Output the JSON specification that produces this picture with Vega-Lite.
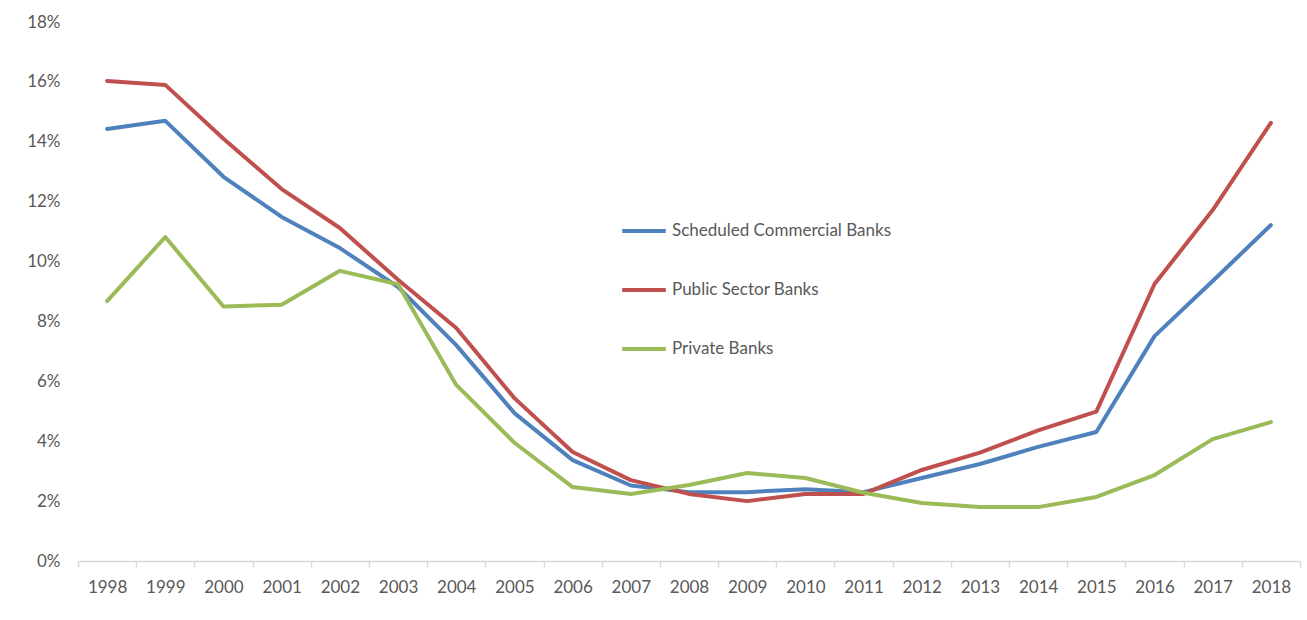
{
  "$schema": "https://vega.github.io/schema/vega-lite/v6.json",
  "autosize": "none",
  "width": 1222,
  "height": 539,
  "padding": {"left": 78, "top": 22, "right": 7, "bottom": 59},
  "background": "white",
  "config": {
    "view": {"stroke": null},
    "font": "Lato",
    "axis": {"labelFont": "Lato", "labelFontSize": 17, "labelColor": "#595959", "titleFont": "Lato"},
    "legend": {"labelFont": "Lato", "labelFontSize": 17, "labelColor": "#595959", "labelLimit": 0}
  },
  "data": {
    "values": [
      {"year": "1998", "series": "Scheduled Commercial Banks", "value": 14.43},
      {"year": "1999", "series": "Scheduled Commercial Banks", "value": 14.7},
      {"year": "2000", "series": "Scheduled Commercial Banks", "value": 12.83},
      {"year": "2001", "series": "Scheduled Commercial Banks", "value": 11.49},
      {"year": "2002", "series": "Scheduled Commercial Banks", "value": 10.45},
      {"year": "2003", "series": "Scheduled Commercial Banks", "value": 9.15},
      {"year": "2004", "series": "Scheduled Commercial Banks", "value": 7.21},
      {"year": "2005", "series": "Scheduled Commercial Banks", "value": 4.94},
      {"year": "2006", "series": "Scheduled Commercial Banks", "value": 3.37},
      {"year": "2007", "series": "Scheduled Commercial Banks", "value": 2.52},
      {"year": "2008", "series": "Scheduled Commercial Banks", "value": 2.3},
      {"year": "2009", "series": "Scheduled Commercial Banks", "value": 2.3},
      {"year": "2010", "series": "Scheduled Commercial Banks", "value": 2.4},
      {"year": "2011", "series": "Scheduled Commercial Banks", "value": 2.3},
      {"year": "2012", "series": "Scheduled Commercial Banks", "value": 2.77},
      {"year": "2013", "series": "Scheduled Commercial Banks", "value": 3.24},
      {"year": "2014", "series": "Scheduled Commercial Banks", "value": 3.81},
      {"year": "2015", "series": "Scheduled Commercial Banks", "value": 4.31},
      {"year": "2016", "series": "Scheduled Commercial Banks", "value": 7.51},
      {"year": "2017", "series": "Scheduled Commercial Banks", "value": 9.35},
      {"year": "2018", "series": "Scheduled Commercial Banks", "value": 11.22},
      {"year": "1998", "series": "Public Sector Banks", "value": 16.03},
      {"year": "1999", "series": "Public Sector Banks", "value": 15.9},
      {"year": "2000", "series": "Public Sector Banks", "value": 14.1},
      {"year": "2001", "series": "Public Sector Banks", "value": 12.42},
      {"year": "2002", "series": "Public Sector Banks", "value": 11.12},
      {"year": "2003", "series": "Public Sector Banks", "value": 9.39},
      {"year": "2004", "series": "Public Sector Banks", "value": 7.78},
      {"year": "2005", "series": "Public Sector Banks", "value": 5.44},
      {"year": "2006", "series": "Public Sector Banks", "value": 3.64},
      {"year": "2007", "series": "Public Sector Banks", "value": 2.7},
      {"year": "2008", "series": "Public Sector Banks", "value": 2.24},
      {"year": "2009", "series": "Public Sector Banks", "value": 2.0},
      {"year": "2010", "series": "Public Sector Banks", "value": 2.24},
      {"year": "2011", "series": "Public Sector Banks", "value": 2.24},
      {"year": "2012", "series": "Public Sector Banks", "value": 3.04},
      {"year": "2013", "series": "Public Sector Banks", "value": 3.62},
      {"year": "2014", "series": "Public Sector Banks", "value": 4.36},
      {"year": "2015", "series": "Public Sector Banks", "value": 4.99},
      {"year": "2016", "series": "Public Sector Banks", "value": 9.25},
      {"year": "2017", "series": "Public Sector Banks", "value": 11.72},
      {"year": "2018", "series": "Public Sector Banks", "value": 14.63},
      {"year": "1998", "series": "Private Banks", "value": 8.68},
      {"year": "1999", "series": "Private Banks", "value": 10.82},
      {"year": "2000", "series": "Private Banks", "value": 8.5},
      {"year": "2001", "series": "Private Banks", "value": 8.56},
      {"year": "2002", "series": "Private Banks", "value": 9.69},
      {"year": "2003", "series": "Private Banks", "value": 9.24},
      {"year": "2004", "series": "Private Banks", "value": 5.88},
      {"year": "2005", "series": "Private Banks", "value": 3.95},
      {"year": "2006", "series": "Private Banks", "value": 2.47},
      {"year": "2007", "series": "Private Banks", "value": 2.24},
      {"year": "2008", "series": "Private Banks", "value": 2.54},
      {"year": "2009", "series": "Private Banks", "value": 2.94},
      {"year": "2010", "series": "Private Banks", "value": 2.77},
      {"year": "2011", "series": "Private Banks", "value": 2.28},
      {"year": "2012", "series": "Private Banks", "value": 1.94},
      {"year": "2013", "series": "Private Banks", "value": 1.8},
      {"year": "2014", "series": "Private Banks", "value": 1.8},
      {"year": "2015", "series": "Private Banks", "value": 2.14},
      {"year": "2016", "series": "Private Banks", "value": 2.87},
      {"year": "2017", "series": "Private Banks", "value": 4.07},
      {"year": "2018", "series": "Private Banks", "value": 4.64}
    ]
  },
  "mark": {"type": "line", "strokeWidth": 4, "strokeCap": "round", "strokeJoin": "round"},
  "encoding": {
    "x": {
      "field": "year",
      "type": "ordinal",
      "scale": {"type": "band", "paddingInner": 0, "paddingOuter": 0},
      "axis": {
        "title": null,
        "labelAngle": 0,
        "tickBand": "extent",
        "domainColor": "#d9d9d9",
        "domainWidth": 1.5,
        "tickColor": "#d9d9d9",
        "tickWidth": 1.5,
        "tickSize": 6,
        "labelPadding": 12,
        "grid": false
      }
    },
    "y": {
      "field": "value",
      "type": "quantitative",
      "scale": {"domain": [0, 18], "nice": false},
      "axis": {
        "title": null,
        "values": [0, 2, 4, 6, 8, 10, 12, 14, 16, 18],
        "labelExpr": "datum.value + '%'",
        "domain": false,
        "ticks": false,
        "grid": false,
        "labelPadding": 18
      }
    },
    "color": {
      "field": "series",
      "type": "nominal",
      "scale": {
        "domain": ["Scheduled Commercial Banks", "Public Sector Banks", "Private Banks"],
        "range": ["#4F81BD", "#C0504D", "#9BBB59"]
      },
      "legend": {
        "title": null,
        "orient": "none",
        "legendX": 542,
        "legendY": 185,
        "symbolType": "stroke",
        "symbolSize": 1900,
        "symbolStrokeWidth": 4,
        "labelOffset": 4,
        "rowPadding": 27
      }
    }
  }
}
